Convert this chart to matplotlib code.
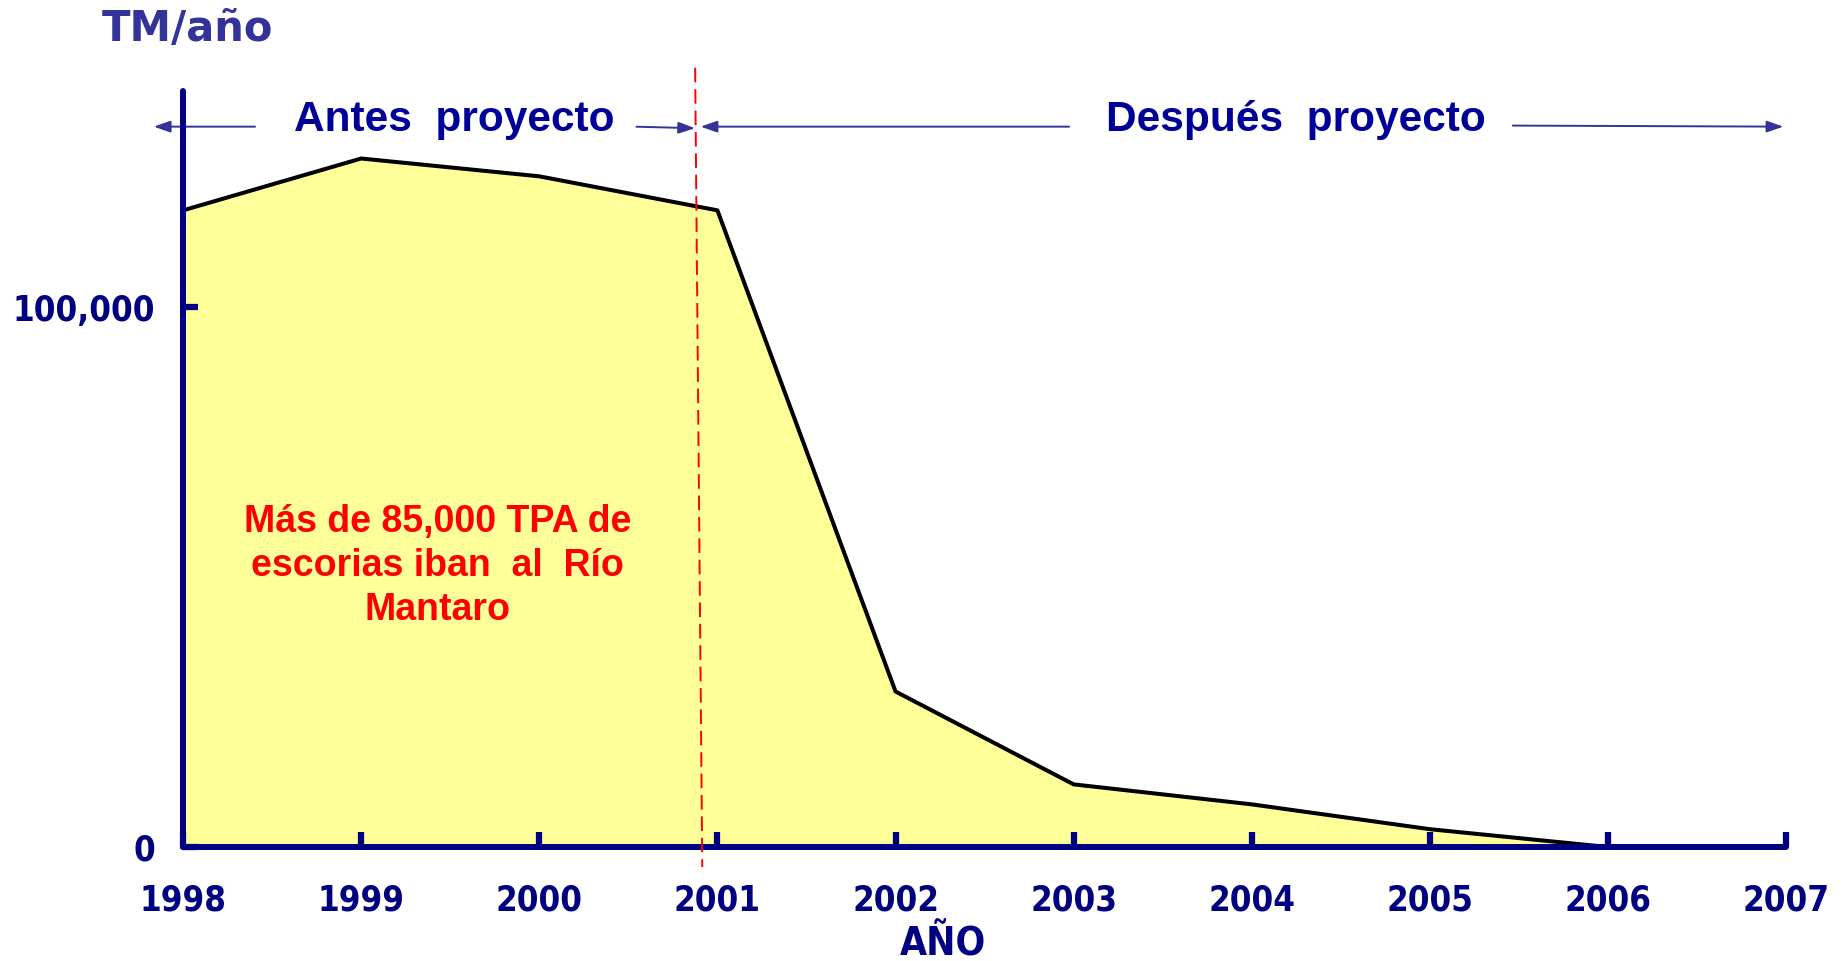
import numpy as np
import matplotlib.pyplot as plt

# datos
anios = [1998, 1999, 2000, 2001, 2002, 2003, 2004, 2005, 2006]
escorias = [117900, 127500, 124200, 117900, 28800, 11600, 7900, 3300, 0]
ticks_x = [1998, 1999, 2000, 2001, 2002, 2003, 2004, 2005, 2006, 2007]
ticks_y = [0, 100000]
etiquetas_y = ['0', '100,000']

navy = '#000080'
azul = '#333399'

fig = plt.figure(figsize=(18.49, 9.61), dpi=100)
ax = fig.add_axes([0.099, 0.1186, 0.867, 0.7867])

ax.fill_between(anios, escorias, 0, color='#FFFF99', zorder=1)
ax.plot(anios, escorias, color='black', lw=2.9, zorder=2)

ax.set_xlim(1998, 2007)
ax.set_ylim(0, 140000)
for s in ['top', 'right']:
    ax.spines[s].set_visible(False)
for s in ['left', 'bottom']:
    ax.spines[s].set_color(navy)
    ax.spines[s].set_linewidth(4.3)
    ax.spines[s].set_capstyle('round')
    ax.spines[s].set_zorder(5)

ax.set_xticks(ticks_x)
ax.set_xticklabels([str(t) for t in ticks_x])
ax.set_yticks(ticks_y)
ax.set_yticklabels(etiquetas_y)
ax.tick_params(axis='both', direction='in', length=10.5, width=4.5, color=navy,
               labelcolor=navy, labelsize=25)
ax.tick_params(axis='x', pad=26)
ax.tick_params(axis='y', pad=20)
for lab in ax.get_xticklabels() + ax.get_yticklabels():
    lab.set_fontweight('bold')
    lab.set_fontstretch('condensed')
for t in ax.xaxis.get_major_ticks() + ax.yaxis.get_major_ticks():
    t.tick1line.set_solid_capstyle('round')

# linea de inicio del proyecto
ax.plot([2000.875, 2000.915], [144300, -3700], color='red', lw=1.4,
        ls=(0, (7.5, 3.5)), clip_on=False, zorder=6)

# flechas antes / despues
yf = 133400
flecha = dict(arrowstyle='-|>,head_length=1.0,head_width=0.35', color=azul, lw=1.4)
ax.annotate('', xy=(1997.82, yf), xytext=(1998.42, yf), arrowprops=flecha,
            annotation_clip=False)
ax.annotate('', xy=(2000.89, yf - 300), xytext=(2000.53, yf), arrowprops=flecha,
            annotation_clip=False)
ax.annotate('', xy=(2000.89, yf), xytext=(2002.99, yf), arrowprops=flecha,
            annotation_clip=False)
ax.annotate('', xy=(2007.0, yf), xytext=(2005.45, yf + 200), arrowprops=flecha,
            annotation_clip=False)

ax.text(1999.52, yf + 1300, 'Antes  proyecto', ha='center', va='center',
        fontsize=30.5, fontweight='bold', color='#000099', family='Liberation Sans')
ax.text(2004.25, yf + 1300, 'Después  proyecto', ha='center', va='center',
        fontsize=30.5, fontweight='bold', color='#000099', family='Liberation Sans')

ax.text(1999.43, 52000, 'Más de 85,000 TPA de\nescorias iban  al  Río\nMantaro',
        ha='center', va='center', fontsize=27, fontweight='bold', color='red',
        family='Liberation Sans', linespacing=1.28)

fig.text(187 / 1849, 1 - 29 / 961, 'TM/año', ha='center', va='center',
         fontsize=30, fontweight='bold', color=azul)
fig.text(943 / 1849, 1 - 945 / 961, 'AÑO', ha='center', va='center',
         fontsize=28, fontweight='bold', color=navy, fontstretch='condensed')

fig.savefig('out.png', dpi=100)
